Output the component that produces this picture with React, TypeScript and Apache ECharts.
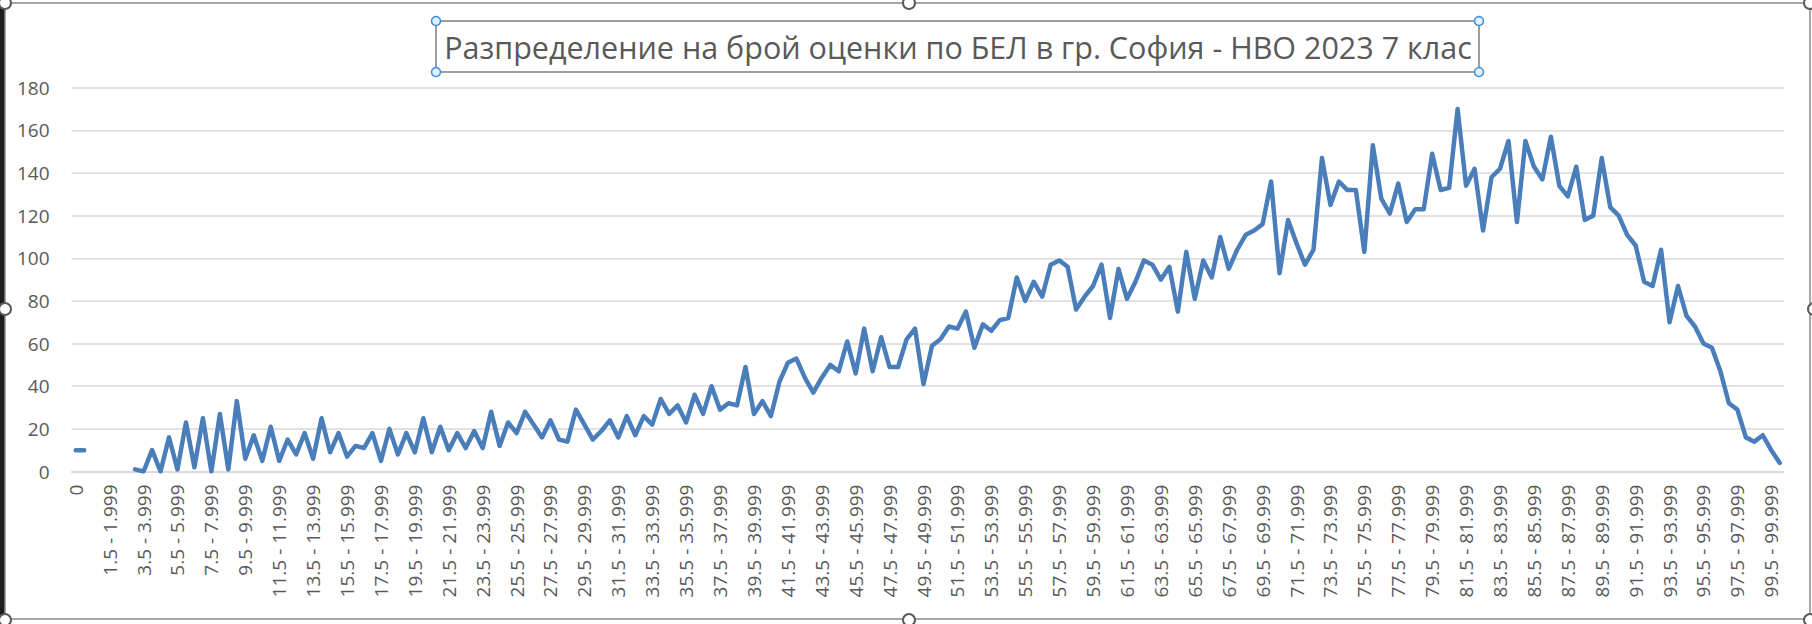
import React, { useEffect, useRef } from "react";
import * as echarts from "echarts";

const TITLE = "Разпределение на брой оценки по БЕЛ в гр. София - НВО 2023 7 клас";

const fmtStart = (a: number) => (a % 1 === 0 ? String(a) : a.toFixed(1));
const CATEGORIES: string[] = [
  "0",
  ...Array.from({ length: 200 }, (_, k) => `${fmtStart(k * 0.5)} - ${(k * 0.5 + 0.499).toFixed(3)}`),
  "100",
];

const VALUES: (number | null)[] = [
  10, 10, null, null, null, null, null,
  1, 0, 10, 0, 16, 1, 23, 2, 25, 0,
  27, 1, 33, 6, 17, 5, 21, 5, 15, 8,
  18, 6, 25, 9, 18, 7, 12, 11, 18, 5,
  20, 8, 18, 9, 25, 9, 21, 10, 18, 11,
  19, 11, 28, 12, 23, 18, 28, 22, 16, 24,
  15, 14, 29, 22, 15, 19, 24, 16, 26, 17,
  26, 22, 34, 27, 31, 23, 36, 27, 40, 29,
  32, 31, 49, 27, 33, 26, 42, 51, 53, 44,
  37, 44, 50, 47, 61, 46, 67, 47, 63, 49,
  49, 62, 67, 41, 59, 62, 68, 67, 75, 58,
  69, 66, 71, 72, 91, 80, 89, 82, 97, 99,
  96, 76, 82, 87, 97, 72, 95, 81, 89, 99,
  97, 90, 96, 75, 103, 81, 99, 91, 110, 95,
  104, 111, 113, 116, 136, 93, 118, 107, 97, 104,
  147, 125, 136, 132, 132, 103, 153, 128, 121, 135,
  117, 123, 123, 149, 132, 133, 170, 134, 142, 113,
  138, 142, 155, 117, 155, 143, 137, 157, 134, 129,
  143, 118, 120, 147, 124, 120, 111, 106, 89, 87,
  104, 70, 87, 73, 68, 60, 58, 47, 32, 29,
  16, 14, 17, 10, 4,
];

const FONT = "'Open Sans', 'Noto Sans', sans-serif";
const TEXT_COLOR = "#595959";

export default function App() {
  const ref = useRef<HTMLDivElement>(null);

  useEffect(() => {
    if (!ref.current) return;
    const chart = echarts.init(ref.current, undefined, { renderer: "svg" });

    const chartHandle = (x: number, y: number) => ({
      type: "circle",
      shape: { cx: x, cy: y, r: 6 },
      style: { fill: "#ffffff", stroke: "#5a5a5a", lineWidth: 2 },
      z: 101,
    });
    const titleHandle = (x: number, y: number) => ({
      type: "circle",
      shape: { cx: x, cy: y, r: 4.5 },
      style: { fill: "#e3f1ff", stroke: "#3a8ee0", lineWidth: 1.5 },
      z: 101,
    });

    chart.setOption({
      animation: false,
      backgroundColor: "#ffffff",
      grid: { left: 71.5, right: 28, top: 87.7, bottom: 152.5, containLabel: false },
      xAxis: {
        type: "category",
        data: CATEGORIES,
        boundaryGap: true,
        axisLine: { show: true, lineStyle: { color: "#d9d9d9", width: 1.5 } },
        axisTick: { show: false },
        axisLabel: {
          interval: 3,
          rotate: 90,
          margin: 13,
          color: TEXT_COLOR,
          fontFamily: FONT,
          fontSize: 19,
        },
        splitLine: { show: false },
      },
      yAxis: {
        type: "value",
        min: 0,
        max: 180,
        interval: 20,
        axisLine: { show: false },
        axisTick: { show: false },
        axisLabel: {
          margin: 22,
          color: TEXT_COLOR,
          fontFamily: FONT,
          fontSize: 19,
        },
        splitLine: { show: true, lineStyle: { color: "#d9d9d9", width: 1.5 } },
      },
      series: [
        {
          type: "line",
          data: VALUES,
          symbol: "none",
          showSymbol: false,
          connectNulls: false,
          lineStyle: { color: "#4a7ebb", width: 4.5, join: "round", cap: "round" },
          itemStyle: { color: "#4a7ebb" },
        },
      ],
      graphic: [
        { type: "rect", shape: { x: 0, y: 0, width: 5, height: 624 }, style: { fill: "#1f1f1f" }, z: 99 },
        {
          type: "rect",
          shape: { x: 5, y: 3, width: 1805, height: 616 },
          style: { fill: "none", stroke: "#8a8a8a", lineWidth: 1.5 },
          z: 99,
        },
        {
          type: "rect",
          shape: { x: 436, y: 21, width: 1043, height: 51 },
          style: { fill: "#ffffff", stroke: "#7f7f7f", lineWidth: 1.5 },
          z: 100,
        },
        {
          type: "text",
          x: 958,
          y: 47,
          style: {
            text: TITLE,
            fill: TEXT_COLOR,
            font: `30.5px ${FONT}`,
            textAlign: "center",
            textVerticalAlign: "middle",
          },
          z: 101,
        },
        titleHandle(436, 21),
        titleHandle(1479, 21),
        titleHandle(436, 72),
        titleHandle(1479, 72),
        chartHandle(5, 3),
        chartHandle(909, 3),
        chartHandle(1810, 3),
        chartHandle(5, 309),
        chartHandle(1814, 309),
        chartHandle(5, 620),
        chartHandle(909, 620),
        chartHandle(1810, 620),
      ],
    });

    return () => chart.dispose();
  }, []);

  return (
    <div
      ref={ref}
      style={{ position: "fixed", left: 0, top: 0, width: 1812, height: 624 }}
    />
  );
}
